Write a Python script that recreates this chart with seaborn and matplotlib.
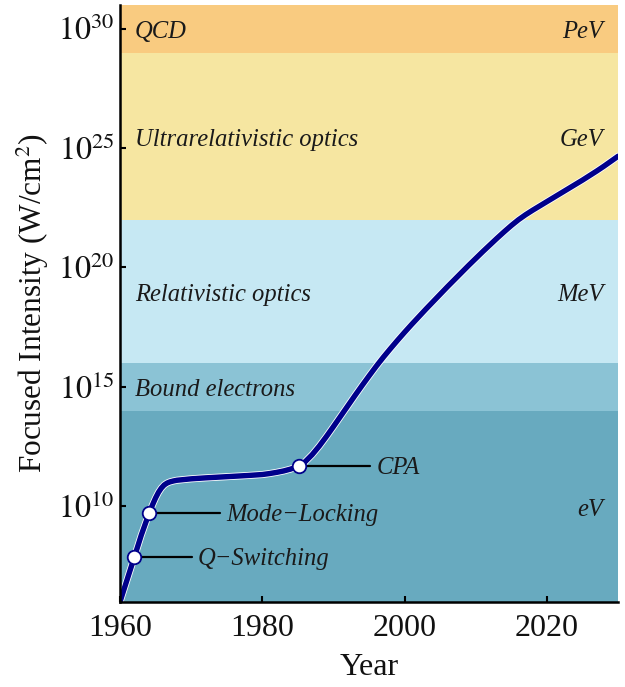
import matplotlib
matplotlib.use("Agg")
import matplotlib.pyplot as plt
import matplotlib.patheffects as pe
import numpy as np
import pandas as pd
import seaborn as sns

# Peak focused laser intensity over time (log10 of W/cm^2)
years = [1959.8, 1960.0, 1961.0, 1962.0, 1963.0, 1964.1, 1964.6, 1965.0, 1965.4,
         1965.8, 1966.2, 1966.6, 1967.0, 1967.5, 1968.0, 1969.0, 1970.0, 1972.0,
         1975.0, 1978.0, 1980.0, 1981.0, 1982.0, 1983.0, 1984.0, 1985.1, 1986.0,
         1987.0, 1988.0, 1989.0, 1990.0, 1991.0, 1992.0, 1993.0, 1994.0, 1995.0,
         1996.0, 1997.0, 1998.0, 1999.0, 2000.0, 2001.0, 2002.0, 2003.0, 2004.0,
         2005.0, 2006.0, 2007.0, 2008.0, 2009.0, 2010.0, 2011.0, 2012.0, 2013.0,
         2014.0, 2015.0, 2016.0, 2017.0, 2018.0, 2019.0, 2020.0, 2021.0, 2022.0,
         2023.0, 2024.0, 2025.0, 2026.0, 2027.0, 2028.0, 2029.0, 2030.0]
log_intensity = [5.80, 6.00, 6.93, 7.86, 8.80, 9.72, 10.08, 10.35, 10.58,
                 10.76, 10.89, 10.97, 11.02, 11.06, 11.09, 11.12, 11.15, 11.19,
                 11.24, 11.29, 11.33, 11.37, 11.42, 11.48, 11.56, 11.68, 11.86,
                 12.16, 12.52, 12.92, 13.34, 13.77, 14.20, 14.63, 15.05, 15.46,
                 15.86, 16.24, 16.60, 16.95, 17.29, 17.62, 17.94, 18.26, 18.57,
                 18.88, 19.19, 19.49, 19.79, 20.09, 20.38, 20.67, 20.95, 21.23,
                 21.50, 21.76, 22.00, 22.21, 22.40, 22.58, 22.76, 22.94, 23.12,
                 23.30, 23.48, 23.66, 23.85, 24.04, 24.24, 24.45, 24.66]

# Milestones marked on the curve
milestone_names = ["Q\u2212Switching", "Mode\u2212Locking", "CPA"]
milestone_years = [1962.0, 1964.1, 1985.1]
milestone_log = [7.86, 9.72, 11.68]
leader_end_years = [1970.1, 1974.1, 1995.2]

# Physical regimes as horizontal bands (log10 limits)
band_edges = [6, 14, 16, 22, 29, 31]
band_colors = ["#68aabf", "#8bc3d5", "#c6e8f3", "#f6e6a1", "#f9cb80"]
band_left_labels = ["", "Bound electrons", "Relativistic optics",
                    "Ultrarelativistic optics", "QCD"]
band_right_labels = ["eV", "", "MeV", "GeV", "PeV"]

ytick_exponents = [10, 15, 20, 25, 30]
xticks = [1960, 1980, 2000, 2020]

sns.set_theme(style="ticks")
plt.rcParams["font.family"] = ["Liberation Serif", "DejaVu Serif"]
plt.rcParams["mathtext.fontset"] = "stix"

fig, ax = plt.subplots(figsize=(6.25, 6.87), dpi=100)
fig.subplots_adjust(left=0.192, right=0.989, top=0.993, bottom=0.124)

ax.set_yscale("log")
ax.set_xlim(1960, 2030)
ax.set_ylim(10.0 ** band_edges[0], 10.0 ** band_edges[-1])

label_kw = dict(style="italic", fontsize=17.7, va="center", color="#1a1a1a",
                textcoords="offset points", zorder=2)
for lo, hi, col, ltxt, rtxt in zip(band_edges[:-1], band_edges[1:], band_colors,
                                   band_left_labels, band_right_labels):
    ax.axhspan(10.0 ** lo, 10.0 ** hi, color=col, lw=0, zorder=0)
    mid = 10.0 ** ((lo + hi) / 2)
    if ltxt:
        ax.annotate(ltxt, (1962.1, mid), xytext=(0, -2.5), ha="left", **label_kw)
    if rtxt:
        ax.annotate(rtxt, (2027.9, mid), xytext=(0, -2.5), ha="right", **label_kw)

df = pd.DataFrame({"year": years, "intensity": [10.0 ** v for v in log_intensity]})
sns.lineplot(data=df, x="year", y="intensity", ax=ax, color="#00008b",
             lw=3.9, zorder=4, sort=False,
             path_effects=[pe.Stroke(linewidth=5.1, foreground="white"), pe.Normal()])

for name, yr, lv, xe in zip(milestone_names, milestone_years, milestone_log,
                            leader_end_years):
    yv = 10.0 ** lv
    ax.plot([yr, xe], [yv, yv], color="black", lw=1.6, zorder=3)
    ax.annotate(name, (xe, yv), xytext=(4.5, -1.5), ha="left", **label_kw)

sns.scatterplot(x=milestone_years, y=[10.0 ** v for v in milestone_log], ax=ax,
                s=95, color="white", edgecolor="#00008b", linewidth=1.3, zorder=5)

ax.set_yticks([10.0 ** e for e in ytick_exponents])
ax.set_yticklabels([rf"$10^{{{e}}}$" for e in ytick_exponents])
ax.yaxis.set_minor_locator(matplotlib.ticker.NullLocator())
ax.set_xticks(xticks)
ax.set_xticklabels([str(t) for t in xticks])

ax.tick_params(axis="both", direction="in", length=4, width=1.5,
               labelsize=23, color="black", labelcolor="#111111")
ax.tick_params(axis="x", pad=9)
ax.tick_params(axis="y", pad=4)

for side in ["top", "right"]:
    ax.spines[side].set_visible(False)
for side in ["left", "bottom"]:
    ax.spines[side].set_linewidth(1.8)
    ax.spines[side].set_color("black")
    ax.spines[side].set_zorder(6)

ax.set_xlabel("Year", fontsize=23, labelpad=7, color="#111111")
ax.set_ylabel(r"Focused Intensity (W/cm$^2$)", fontsize=22.5, labelpad=5,
              color="#111111")

fig.savefig("out.png", dpi=100)
